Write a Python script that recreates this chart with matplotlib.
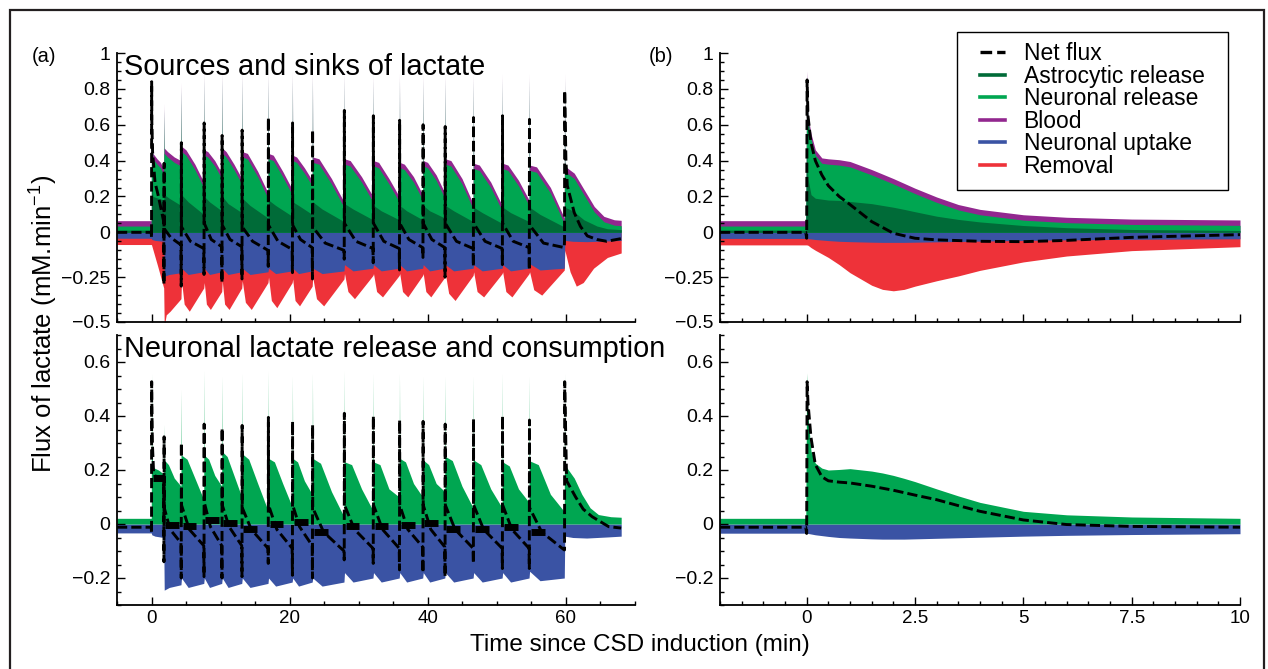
import numpy as np
import matplotlib
matplotlib.use('Agg')
import matplotlib.pyplot as plt
from matplotlib.lines import Line2D
from matplotlib.patches import Rectangle
from matplotlib.ticker import MultipleLocator, FixedLocator, FuncFormatter

plt.rcParams['font.family'] = ['Liberation Sans', 'DejaVu Sans']
plt.rcParams['mathtext.fontset'] = 'custom'
plt.rcParams['mathtext.rm'] = 'Liberation Sans'
plt.rcParams['mathtext.it'] = 'Liberation Sans:italic'

C_ASTRO = '#006b38'
C_NEUR = '#00a651'
C_BLOOD = '#92278f'
C_UPT = '#3a53a4'
C_REM = '#ee3239'

# ================= panel (a): repeated CSD waves =================
spike_t = [0, 1.8, 4.3, 7.6, 10.2, 13.1, 16.9, 20.4, 23.3, 27.9, 32.1,
           35.9, 39.3, 42.5, 46.6, 50.8, 54.7, 59.8]
t_stop = 68.0

# baselines (before induction)
base_src_a = 0.065      # top of stacked sources
base_astro_a = 0.012
base_upt = -0.033
base_rem = -0.068
base_net_a = 0.0
base_neur_b = 0.021
base_net_b = -0.012
blood_band = 0.03

# top of stacked sources (astro + neuronal + blood)
src_needle = [0.88, 0.72, 0.84, 0.90, 0.90, 0.90, 0.90, 0.90, 0.90, 0.90,
              0.89, 0.89, 0.89, 0.89, 0.89, 0.89, 0.89, 0.89]
src_first = [(0.04, 0.60), (0.2, 0.44), (0.8, 0.41), (1.3, 0.39), (1.76, 0.35)]
src_rows = [(0.47, 0.45, 0.42, 0.40), (0.48, 0.46, 0.38, 0.28),
            (0.46, 0.45, 0.40, 0.33), (0.47, 0.45, 0.38, 0.30),
            (0.45, 0.44, 0.34, 0.22), (0.44, 0.43, 0.34, 0.24),
            (0.43, 0.42, 0.36, 0.29), (0.42, 0.41, 0.30, 0.17),
            (0.41, 0.40, 0.31, 0.20), (0.40, 0.39, 0.30, 0.20),
            (0.39, 0.38, 0.31, 0.21), (0.40, 0.39, 0.32, 0.22),
            (0.41, 0.40, 0.30, 0.16), (0.385, 0.375, 0.28, 0.15),
            (0.385, 0.375, 0.29, 0.18), (0.375, 0.365, 0.25, 0.08)]
src_last = [(59.84, 0.37), (60.5, 0.35), (61.2, 0.33), (62.6, 0.24),
            (64.1, 0.144), (65.5, 0.089), (67.0, 0.07), (68.0, 0.067)]

# astrocytic release (top of dark green)
astro_first = [(0.04, 0.30), (0.2, 0.20), (1.76, 0.18)]
astro_rows = [(0.21, 0.19, 0.15), (0.21, 0.17, 0.10), (0.20, 0.17, 0.12),
              (0.20, 0.16, 0.11), (0.19, 0.15, 0.08), (0.18, 0.15, 0.09),
              (0.17, 0.15, 0.10), (0.17, 0.13, 0.06), (0.16, 0.13, 0.07),
              (0.15, 0.12, 0.07), (0.15, 0.12, 0.07), (0.15, 0.12, 0.08),
              (0.15, 0.12, 0.06), (0.14, 0.11, 0.05), (0.14, 0.11, 0.06),
              (0.14, 0.10, 0.03)]
astro_last = [(59.84, 0.14), (61.0, 0.12), (62.6, 0.07), (64.5, 0.035),
              (66.0, 0.02), (68.0, 0.015)]

# neuronal uptake (bottom of blue)
upt_first = [(0.04, -0.040), (0.5, -0.045), (1.76, -0.05)]
upt_rows = [(-0.245, -0.235, -0.225), (-0.20, -0.235, -0.22), (-0.20, -0.235, -0.22),
            (-0.20, -0.235, -0.22), (-0.20, -0.235, -0.22), (-0.20, -0.23, -0.215),
            (-0.20, -0.23, -0.215), (-0.20, -0.23, -0.215), (-0.18, -0.215, -0.20),
            (-0.18, -0.215, -0.20), (-0.18, -0.215, -0.20), (-0.18, -0.215, -0.20),
            (-0.18, -0.215, -0.20), (-0.18, -0.215, -0.20), (-0.18, -0.215, -0.20),
            (-0.175, -0.21, -0.20)]
upt_last = [(59.84, -0.045), (61.0, -0.05), (63.0, -0.052), (66.0, -0.048),
            (68.0, -0.045)]

# removal (bottom of red = uptake + removal)
rem_first = [(0.0, -0.07), (0.9, -0.19), (1.76, -0.31)]
rem_rows = [(-0.52, -0.46, -0.44, -0.37), (-0.27, -0.40, -0.44, -0.31),
            (-0.28, -0.40, -0.43, -0.33), (-0.27, -0.40, -0.43, -0.31),
            (-0.27, -0.39, -0.43, -0.28), (-0.25, -0.38, -0.42, -0.28),
            (-0.26, -0.38, -0.41, -0.30), (-0.25, -0.37, -0.41, -0.26),
            (-0.23, -0.33, -0.37, -0.24), (-0.23, -0.33, -0.36, -0.24),
            (-0.23, -0.33, -0.36, -0.24), (-0.23, -0.33, -0.36, -0.25),
            (-0.23, -0.34, -0.38, -0.24), (-0.22, -0.33, -0.36, -0.23),
            (-0.22, -0.33, -0.36, -0.23), (-0.22, -0.32, -0.35, -0.21)]
rem_last = [(59.84, -0.10), (60.6, -0.22), (61.5, -0.30), (62.5, -0.28),
            (64.0, -0.20), (66.0, -0.14), (68.0, -0.115)]

# net flux, top panel
net_trough_a = [-0.03, -0.29, -0.30, -0.235, -0.28, -0.26, -0.19, -0.225, -0.26,
                -0.15, -0.17, -0.21, -0.14, -0.25, -0.19, -0.18, -0.21, -0.04]
net_peak_a = [0.84, 0.385, 0.50, 0.61, 0.54, 0.57, 0.64, 0.61, 0.57, 0.68,
              0.65, 0.625, 0.60, 0.59, 0.64, 0.65, 0.63, 0.79]
net_first_a = [(0.04, 0.62), (0.15, 0.45), (0.5, 0.28), (1.0, 0.20), (1.76, 0.06)]
net_rows_a = [(0.02, -0.03, -0.07), (0.03, -0.05, -0.09), (0.05, -0.04, -0.08),
              (0.04, -0.04, -0.08), (0.03, -0.05, -0.10), (0.04, -0.05, -0.095),
              (0.04, -0.04, -0.085), (0.03, -0.06, -0.10), (0.05, -0.05, -0.09),
              (0.05, -0.05, -0.09), (0.05, -0.04, -0.085), (0.05, -0.04, -0.085),
              (0.05, -0.05, -0.09), (0.05, -0.05, -0.09), (0.05, -0.05, -0.085),
              (0.04, -0.06, -0.085)]
net_last_a = [(60.0, 0.40), (60.2, 0.26), (61.2, 0.11), (62.1, 0.033),
              (63.1, -0.02), (64.5, -0.04), (65.9, -0.05), (68.0, -0.035)]

# neuronal release, bottom panel
neur_needle = [0.56, 0.37, 0.50, 0.57, 0.55, 0.56, 0.57, 0.55, 0.56, 0.57,
               0.56, 0.56, 0.55, 0.55, 0.55, 0.56, 0.55, 0.56]
neur_first = [(0.04, 0.30), (0.15, 0.21), (1.0, 0.20), (1.76, 0.185)]
neur_rows = [(0.237, 0.22, 0.17, 0.14), (0.255, 0.24, 0.17, 0.09),
             (0.255, 0.24, 0.18, 0.14), (0.268, 0.25, 0.18, 0.10),
             (0.26, 0.24, 0.15, 0.05), (0.243, 0.23, 0.15, 0.064),
             (0.243, 0.23, 0.16, 0.11), (0.243, 0.225, 0.12, 0.027),
             (0.23, 0.22, 0.13, 0.05), (0.23, 0.22, 0.13, 0.10),
             (0.243, 0.23, 0.15, 0.10), (0.237, 0.22, 0.15, 0.12),
             (0.25, 0.235, 0.14, 0.06), (0.237, 0.22, 0.13, 0.06),
             (0.23, 0.215, 0.13, 0.08), (0.234, 0.22, 0.11, 0.046)]
neur_last = [(59.84, 0.22), (60.2, 0.206), (61.2, 0.17), (62.3, 0.11),
             (63.5, 0.06), (64.7, 0.035), (66.5, 0.027), (68.0, 0.025)]

# net flux, bottom panel
net_trough_b = [-0.035, -0.14, -0.20, -0.195, -0.20, -0.195, -0.146, -0.19, -0.20,
                -0.133, -0.146, -0.17, -0.18, -0.195, -0.146, -0.165, -0.165, -0.096]
net_peak_b = [0.527, 0.323, 0.30, 0.37, 0.355, 0.365, 0.395, 0.38, 0.367, 0.41,
              0.40, 0.385, 0.38, 0.37, 0.39, 0.40, 0.385, 0.527]
net_first_b = [(0.04, 0.45), (0.12, 0.30), (0.3, 0.19), (0.6, 0.175), (1.76, 0.165)]
net_rows_b = [(0.06, -0.02, -0.07), (0.07, -0.02, -0.08), (0.08, -0.01, -0.08),
              (0.07, -0.01, -0.08), (0.06, -0.02, -0.09), (0.07, -0.02, -0.09),
              (0.07, -0.01, -0.08), (0.06, -0.03, -0.10), (0.07, -0.02, -0.09),
              (0.07, -0.02, -0.09), (0.07, -0.02, -0.085), (0.07, -0.02, -0.085),
              (0.07, -0.02, -0.09), (0.07, -0.02, -0.09), (0.07, -0.02, -0.09),
              (0.06, -0.03, -0.096)]
net_last_b = [(60.1, 0.16), (61.4, 0.10), (62.5, 0.055), (63.8, 0.027),
              (66.2, -0.01), (68.0, -0.015)]
# short solid bars of the net flux just after each wave (bottom panel)
box_level = [0.172, -0.005, -0.006, 0.014, 0.004, -0.017, -0.001, 0.009, -0.03,
             -0.009, -0.009, -0.004, 0.002, -0.017, -0.017, -0.01, -0.028]

# ================= panel (b): single CSD wave =================
tb = [-2, -0.02, 0, 0.03, 0.1, 0.2, 0.35, 0.5, 0.75, 1.0, 1.5, 1.75, 2.0, 2.25,
      2.5, 3.0, 3.5, 4.0, 5.0, 6.0, 7.5, 10]
astro_b = [0.012, 0.012, 0.45, 0.30, 0.21, 0.19, 0.185, 0.18, 0.178, 0.172, 0.16,
           0.15, 0.14, 0.128, 0.115, 0.09, 0.072, 0.058, 0.038, 0.026, 0.016, 0.010]
neur_top_b = [0.023, 0.023, 0.42, 0.32, 0.31, 0.24, 0.20, 0.20, 0.197, 0.193, 0.16,
              0.145, 0.13, 0.115, 0.101, 0.077, 0.053, 0.040, 0.030, 0.028, 0.028,
              0.029]
blood_b = [0.03, 0.03, 0.03, 0.03, 0.03, 0.03, 0.03, 0.03, 0.03, 0.03, 0.03,
           0.03, 0.03, 0.03, 0.03, 0.03, 0.03, 0.03, 0.03, 0.03, 0.03, 0.03]
upt_b = [-0.034, -0.034, -0.034, -0.035, -0.037, -0.04, -0.043, -0.046, -0.05,
         -0.052, -0.055, -0.056, -0.056, -0.056, -0.055, -0.053, -0.051, -0.049,
         -0.045, -0.042, -0.039, -0.036]
rem_b = [-0.036, -0.036, -0.036, -0.037, -0.048, -0.06, -0.077, -0.094, -0.13,
         -0.173, -0.24, -0.262, -0.27, -0.262, -0.245, -0.217, -0.192, -0.163,
         -0.12, -0.09, -0.063, -0.044]
neur_bot_b = [0.021, 0.021, 0.56, 0.40, 0.27, 0.225, 0.207, 0.20, 0.202, 0.205,
              0.196, 0.189, 0.18, 0.169, 0.157, 0.13, 0.104, 0.08, 0.047, 0.034,
              0.026, 0.021]
tn = [-2, -0.02, 0, 0.01, 0.03, 0.1, 0.2, 0.35, 0.5, 0.75, 1.0, 1.5, 2.0, 2.5,
      3.0, 3.5, 4.0, 5.0, 6.0, 7.5, 10]
net_top_b = [0, 0, -0.033, 0.85, 0.65, 0.50, 0.40, 0.32, 0.26, 0.20, 0.155, 0.06,
             -0.005, -0.033, -0.042, -0.046, -0.05, -0.052, -0.045, -0.028, -0.013]
net_bot_b = [-0.012, -0.012, -0.035, 0.527, 0.45, 0.32, 0.22, 0.175, 0.16, 0.155,
             0.152, 0.14, 0.125, 0.107, 0.09, 0.068, 0.047, 0.015, -0.002, -0.009,
             -0.012]

# ---------------------------------------------------------------
EPS = 0.04


def build_edge(base, first, rows, last, fracs, spikes=None):
    t, v = [-5.0, -EPS], [base, base]
    n = len(spike_t)
    for i in range(n):
        s = spike_t[i]
        e = spike_t[i + 1] if i + 1 < n else t_stop
        if spikes is not None:
            vals = spikes[i]
            for k, val in enumerate(vals):
                t.append(s + k * EPS / len(vals))
                v.append(val)
        if i == 0:
            pts = first
        elif i == n - 1:
            pts = last
        else:
            pts = [(s + EPS + f * (e - s - 2 * EPS), val)
                   for f, val in zip(fracs, rows[i - 1])]
        for tt, vv in pts:
            t.append(tt)
            v.append(vv)
    return np.array(t), np.array(v)


W, H = 1268, 669
fig = plt.figure(figsize=(W / 100, H / 100), dpi=100)


def ax_at(l, t, r, b):
    return fig.add_axes([l / W, 1 - b / H, (r - l) / W, (b - t) / H])


axA1 = ax_at(117, 53, 635, 322)
axA2 = ax_at(117, 335, 635, 605)
axB1 = ax_at(720, 53, 1240, 322)
axB2 = ax_at(720, 335, 1240, 605)

fmt = FuncFormatter(lambda v, p: ('%g' % v).replace('-', '\u2212'))


def style(ax, xlim, ylim, xmaj, xmn, ymaj, xlabels):
    ax.set_xlim(*xlim)
    ax.set_ylim(*ylim)
    ax.patch.set_alpha(0)
    for sp in ['top', 'right']:
        ax.spines[sp].set_visible(False)
    for sp in ['left', 'bottom']:
        ax.spines[sp].set_linewidth(1.3)
    ax.xaxis.set_major_locator(FixedLocator(xmaj))
    ax.xaxis.set_minor_locator(MultipleLocator(xmn))
    ax.yaxis.set_major_locator(FixedLocator(ymaj))
    ax.yaxis.set_minor_locator(MultipleLocator(0.05))
    ax.xaxis.set_major_formatter(fmt)
    ax.yaxis.set_major_formatter(fmt)
    ax.tick_params(which='both', direction='in', top=False, right=False,
                   width=1.0, labelsize=14, pad=5)
    ax.tick_params(axis='x', pad=3.5, labelsize=13.5)
    ax.tick_params(which='major', length=5.8)
    ax.tick_params(which='minor', length=2.9)
    if not xlabels:
        ax.tick_params(labelbottom=False)


yt_top = [1, 0.8, 0.6, 0.4, 0.2, 0, -0.25, -0.5]
yt_bot = [0.6, 0.4, 0.2, 0, -0.2]
style(axA1, (-5, 70), (-0.5, 1.0), [0, 20, 40, 60], 5, yt_top, False)
style(axA2, (-5, 70), (-0.3, 0.7), [0, 20, 40, 60], 5, yt_bot, True)
style(axB1, (-2, 10), (-0.5, 1.0), [0, 2.5, 5, 7.5, 10], 0.5, yt_top, False)
style(axB2, (-2, 10), (-0.3, 0.7), [0, 2.5, 5, 7.5, 10], 0.5, yt_bot, True)

NET_KW = dict(color='black', lw=2.1, dashes=(3.5, 1.4), zorder=5)

# ---------- panel (a) top ----------
t_src, v_src = build_edge(base_src_a, src_first, src_rows, src_last,
                          [0, 0.2, 0.6, 1], spikes=[(x,) for x in src_needle])
t_ast, v_ast = build_edge(base_astro_a, astro_first, astro_rows, astro_last,
                          [0, 0.3, 1])
t_upt, v_upt = build_edge(base_upt, upt_first, upt_rows, upt_last, [0, 0.3, 1])
t_rem, v_rem = build_edge(base_rem, rem_first, rem_rows, rem_last,
                          [0, 0.12, 0.35, 1])
t_net, v_net = build_edge(base_net_a, net_first_a, net_rows_a, net_last_a,
                          [0, 0.4, 1],
                          spikes=list(zip(net_trough_a, net_peak_a)))

axA1.fill_between(t_rem, 0, v_rem, color=C_REM, lw=0)
axA1.fill_between(t_upt, 0, v_upt, color=C_UPT, lw=0)
axA1.fill_between(t_src, 0, v_src, color=C_BLOOD, lw=0)
axA1.fill_between(t_src, 0, v_src - blood_band, color=C_NEUR, lw=0)
axA1.fill_between(t_ast, 0, v_ast, color=C_ASTRO, lw=0)
axA1.plot(t_net, v_net, **NET_KW)

# ---------- panel (a) bottom ----------
t_neu, v_neu = build_edge(base_neur_b, neur_first, neur_rows, neur_last,
                          [0, 0.25, 0.6, 1], spikes=[(x,) for x in neur_needle])
t_nb, v_nb = build_edge(base_net_b, net_first_b, net_rows_b, net_last_b,
                        [0, 0.35, 1],
                        spikes=list(zip(net_trough_b, net_peak_b)))
axA2.fill_between(t_upt, 0, v_upt, color=C_UPT, lw=0)
axA2.fill_between(t_neu, 0, v_neu, color=C_NEUR, lw=0)
axA2.plot(t_nb, v_nb, **NET_KW)
for i, lvl in enumerate(box_level):
    s = spike_t[i]
    e = min(s + 2.2, spike_t[i + 1] - 0.1)
    axA2.plot([s + 0.2, e], [lvl, lvl], color='black', lw=5,
              solid_capstyle='butt', zorder=6)

# ---------- panel (b) ----------
tb_a = np.array(tb)
s1 = np.array(astro_b)
s2 = s1 + np.array(neur_top_b)
s3 = s2 + np.array(blood_b)
n1 = np.array(upt_b)
n2 = n1 + np.array(rem_b)
axB1.fill_between(tb_a, 0, n2, color=C_REM, lw=0)
axB1.fill_between(tb_a, 0, n1, color=C_UPT, lw=0)
axB1.fill_between(tb_a, 0, s3, color=C_BLOOD, lw=0)
axB1.fill_between(tb_a, 0, s2, color=C_NEUR, lw=0)
axB1.fill_between(tb_a, 0, s1, color=C_ASTRO, lw=0)
axB1.plot(tn, net_top_b, **NET_KW)

axB2.fill_between(tb_a, 0, n1, color=C_UPT, lw=0)
axB2.fill_between(tb_a, 0, neur_bot_b, color=C_NEUR, lw=0)
axB2.plot(tn, net_bot_b, **NET_KW)

# ---------- texts ----------
fig.text(124 / W, 1 - 75 / H, 'Sources and sinks of lactate', fontsize=20.8,
         va='baseline', ha='left')
fig.text(124 / W, 1 - 357 / H, 'Neuronal lactate release and consumption',
         fontsize=20.8, va='baseline', ha='left')
fig.text(32 / W, 1 - 62 / H, '(a)', fontsize=14.5, va='baseline', ha='left')
fig.text(649 / W, 1 - 62 / H, '(b)', fontsize=14.5, va='baseline', ha='left')
fig.text(44 / W, 1 - 324 / H, 'Flux of lactate (mM.min$^{\\mathregular{-1}}$)',
         fontsize=18.5, rotation=90, ha='center', va='center')
fig.text(640 / W, 1 - 651 / H, 'Time since CSD induction (min)', fontsize=17.5,
         ha='center', va='baseline')

# ---------- legend ----------
handles = [Line2D([], [], color='black', lw=2.4, dashes=(3.5, 1.5)),
           Line2D([], [], color=C_ASTRO, lw=2.6),
           Line2D([], [], color=C_NEUR, lw=2.6),
           Line2D([], [], color=C_BLOOD, lw=2.6),
           Line2D([], [], color=C_UPT, lw=2.6),
           Line2D([], [], color=C_REM, lw=2.6)]
labels = ['Net flux', 'Astrocytic release', 'Neuronal release', 'Blood',
          'Neuronal uptake', 'Removal']
fig.legend(handles, labels, loc='upper left', bbox_to_anchor=(980 / W, 1 - 42 / H),
           frameon=False, fontsize=16.5, handlelength=1.1, handletextpad=0.8,
           labelspacing=-0.02, borderpad=0, borderaxespad=0)
fig.patches.append(Rectangle((957 / W, 1 - 190 / H), (1228 - 957) / W, (190 - 32) / H,
                             transform=fig.transFigure, fill=False, lw=1.0,
                             ec='black', zorder=10))
# outer frame
fig.patches.append(Rectangle((10 / W, -6 / H), (1264 - 10) / W, (669 + 6 - 10) / H,
                             transform=fig.transFigure, fill=False, lw=1.6,
                             ec='#231f20', zorder=10))

fig.savefig('out.png', dpi=100)
